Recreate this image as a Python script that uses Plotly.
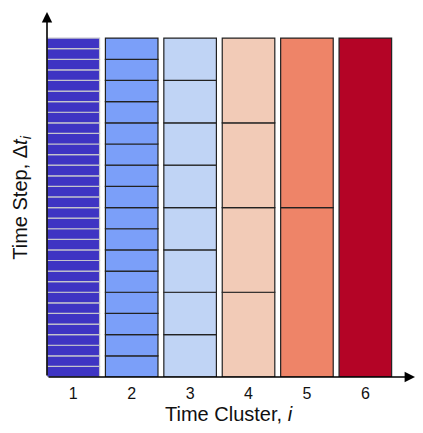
import plotly.graph_objects as go

clusters = [1, 2, 3, 4, 5, 6]
steps_per_cluster = [32, 16, 8, 4, 2, 1]
tick_labels = ["1", "2", "3", "4", "5", "6"]
colors = ["#3e34c3", "#7b9ff9", "#c0d4f5", "#f2cbb7", "#ee8468", "#b40426"]
edge_colors = ["#c4c4cc", "#222222", "#222222", "#222222", "#222222", "#222222"]

fig = go.Figure()
for c, n, col, ec in zip(clusters, steps_per_cluster, colors, edge_colors):
    h = 1.0 / n
    fig.add_trace(go.Bar(
        x=[c] * n,
        y=[h] * n,
        base=[k * h for k in range(n)],
        width=0.9,
        marker=dict(color=col, line=dict(color=ec, width=1.2)),
        showlegend=False,
        hoverinfo="skip",
    ))

x0, x1 = 0.55, 6.85
y0, y1 = 0.0, 1.077

fig.update_layout(
    width=415, height=425,
    margin=dict(l=39, r=8, t=4, b=56),
    barmode="overlay",
    plot_bgcolor="white", paper_bgcolor="white",
    font=dict(family="Liberation Sans, Arial, sans-serif", color="#111111"),
    xaxis=dict(range=[x0, x1], tickvals=clusters, ticktext=tick_labels,
               showgrid=False, zeroline=False, showline=False, ticks="",
               tickfont=dict(size=16), ticklabelstandoff=5, fixedrange=True),
    yaxis=dict(range=[y0, y1], showticklabels=False, showgrid=False,
               zeroline=False, showline=False, ticks="", fixedrange=True),
    annotations=[
        dict(x=x1, y=0, ax=x0, ay=0, xref="x", yref="y", axref="x", ayref="y",
             showarrow=True, arrowhead=2, arrowsize=1.3, arrowwidth=1.6,
             arrowcolor="black", text=""),
        dict(x=x0, y=y1, ax=x0, ay=0, xref="x", yref="y", axref="x", ayref="y",
             showarrow=True, arrowhead=2, arrowsize=1.3, arrowwidth=1.6,
             arrowcolor="black", text=""),
        dict(x=0.494, y=-0.102, xref="paper", yref="paper", showarrow=False,
             text="Time Cluster, <i>i</i>", font=dict(size=20),
             xanchor="center", yanchor="middle"),
        dict(x=-0.068, y=0.491, xref="paper", yref="paper", showarrow=False,
             text="Time Step, \u0394<i>t<sub>i</sub></i>", font=dict(size=20),
             textangle=-90, xanchor="center", yanchor="middle"),
    ],
)

fig.write_html("out.html")
